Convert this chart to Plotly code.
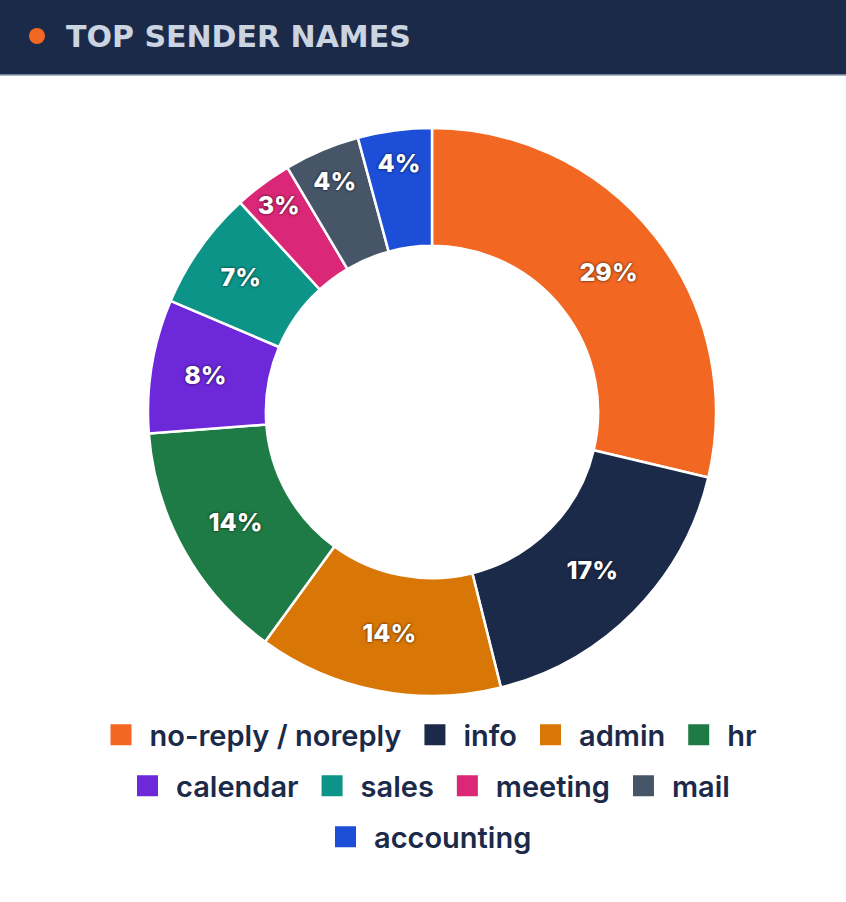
import plotly.graph_objects as go

# sender name counts
senders = ["no-reply / noreply", "info", "admin", "hr", "calendar",
           "sales", "meeting", "mail", "accounting"]
counts = [287, 174, 139, 138, 76, 68, 33, 43, 42]
colors = ["#F26722", "#1C2A4A", "#D97706", "#1E7B45", "#6D28D9",
          "#0D9488", "#DB2777", "#475569", "#1D4ED8"]

W, H = 846, 902
ML, MR, MT, MB = 18, 0, 128, 206
PW, PH = W - ML - MR, H - MT - MB


def px_x(x):
    return (x - ML) / PW


def px_y(y):
    return (H - MB - y) / PH


fig = go.Figure(go.Pie(
    labels=senders,
    values=counts,
    hole=0.585,
    sort=False,
    direction="clockwise",
    rotation=0,
    showlegend=False,
    marker=dict(colors=colors, line=dict(color="white", width=2.5)),
    texttemplate="%{percent:.0%}",
    textposition="inside",
    insidetextorientation="horizontal",
    textfont=dict(family="Inter", size=25, color="white", weight=800,
                  shadow="0px 0px 3px rgba(0,0,0,0.8)"),
    hoverinfo="label+value+percent",
))

# legend: three centred rows, like the original wrapping
row_of = [0, 0, 0, 0, 1, 1, 1, 1, 2]
row_names = ["legend", "legend2", "legend3"]
row_y = [735, 786, 837]
for name, col, r in zip(senders, colors, row_of):
    fig.add_trace(go.Scatter(
        x=[None], y=[None], mode="markers", name=name,
        marker=dict(symbol="square", size=16, color=col,
                    line=dict(color=col, width=5)),
        legend=row_names[r], hoverinfo="skip",
    ))

legend_style = dict(orientation="h", x=px_x(427), xanchor="center",
                    yanchor="middle", bgcolor="rgba(0,0,0,0)",
                    itemwidth=47,
                    font=dict(family="Inter", size=29, color="#1C2A4A",
                              weight=600))
fig.update_layout(**{
    row_names[i]: dict(legend_style, y=px_y(row_y[i]))
    for i in range(3)
})

# header bar
fig.add_shape(type="rect", xref="paper", yref="paper",
              x0=px_x(0), x1=px_x(W), y0=px_y(75), y1=px_y(0),
              fillcolor="#1C2A4A", line_width=0, layer="below")
fig.add_shape(type="line", xref="paper", yref="paper",
              x0=px_x(0), x1=px_x(W), y0=px_y(75), y1=px_y(75),
              line=dict(color="#8fa0b8", width=1.5))
fig.add_shape(type="circle", xref="paper", yref="paper",
              x0=px_x(29), x1=px_x(45), y0=px_y(44), y1=px_y(28),
              fillcolor="#F26722", line_width=0)
fig.add_annotation(text="TOP SENDER NAMES", xref="paper", yref="paper",
                   x=px_x(64), y=px_y(36), xanchor="left", yanchor="middle",
                   showarrow=False,
                   font=dict(family="DejaVu Sans", size=30, color="#CBD5E1",
                             weight="bold"))

fig.update_layout(
    width=W, height=H,
    margin=dict(l=ML, r=MR, t=MT, b=MB),
    paper_bgcolor="white",
    plot_bgcolor="white",
    xaxis=dict(visible=False),
    yaxis=dict(visible=False),
)

fig.write_html("out.html", config={"displayModeBar": False},
               post_script="document.body.style.margin='0';")
